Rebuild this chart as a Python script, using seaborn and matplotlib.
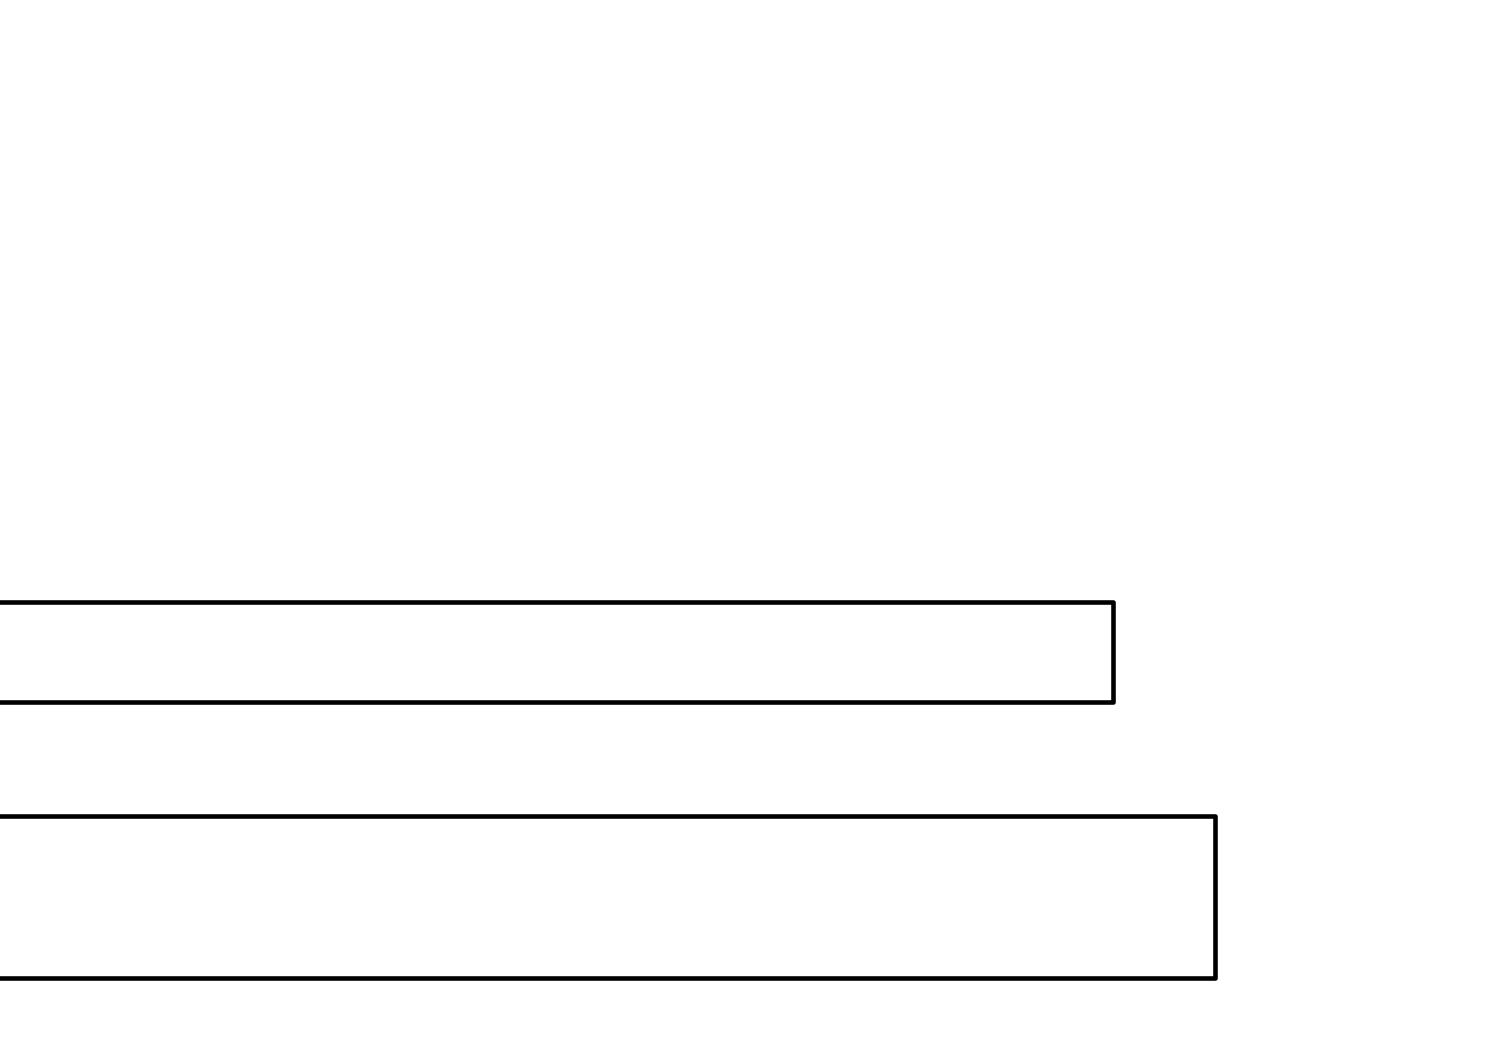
import pandas as pd
import matplotlib.pyplot as plt
import seaborn as sns

# bar data (top to bottom)
categories = ['A', 'B']
values = [74.6, 81.4]
bar_widths = [0.41, 0.66]  # thickness of each bar, in category units

sns.set_style('white')

fig = plt.figure(figsize=(15, 10.46), dpi=100)
ax = fig.add_axes([0, 0, 1, 1])

#one call per bar so each bar can keep its own thickness
for cat, val, w in zip(categories, values, bar_widths):
    df = pd.DataFrame({'cat': [cat], 'val': [val]})
    sns.barplot(
        data=df,
        x='val',
        y='cat',
        order=categories,
        orient='h',
        width=w,
        color='white',
        edgecolor='black',
        linewidth=3.3,
        ax=ax
    )

for p in ax.patches:
    p.set_joinstyle('round')
    p.set_facecolor('white')

#bars run off the left edge, so the left border is hidden
ax.set_xlim(0.4, 100.4)
ax.set_ylim(1.608, -2.661)
ax.axis('off')

fig.savefig('out.png', dpi=100, facecolor='white')
